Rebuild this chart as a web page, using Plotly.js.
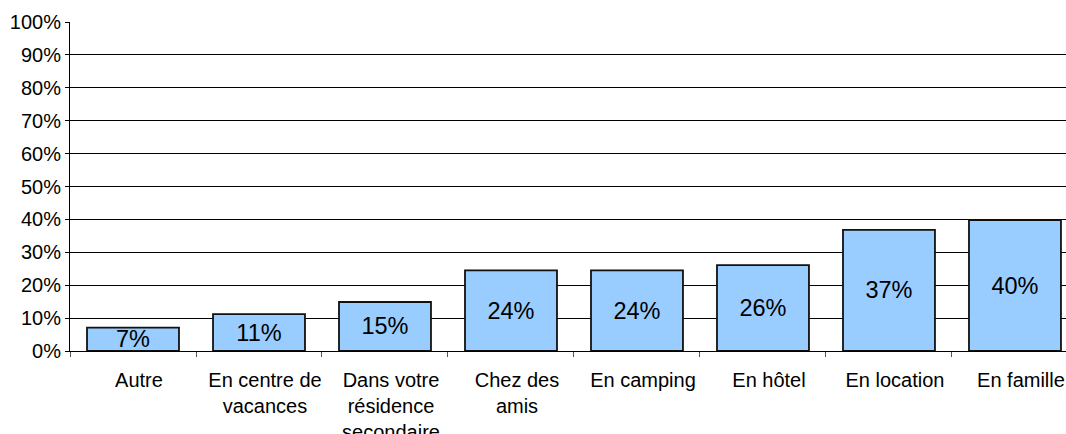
<!DOCTYPE html>
<html>
<head>
<meta charset="utf-8">
<script src="https://cdn.plot.ly/plotly-3.0.1.min.js"></script>
<style>
  html, body { margin: 0; padding: 0; background: #fff; overflow: hidden; }
  #chart { width: 1066px; height: 434px; }
</style>
</head>
<body>
<div id="chart"></div>
<script>
const categories = ["Autre", "En centre de vacances", "Dans votre résidence secondaire", "Chez des amis", "En camping", "En hôtel", "En location", "En famille"];
const tickLabels = ["Autre", "En centre de<br>vacances", "Dans votre<br>résidence<br>secondaire", "Chez des<br>amis", "En camping", "En hôtel", "En location", "En famille"];
const values = [7.1, 11.2, 14.9, 24.5, 24.5, 26.1, 36.8, 39.8];
const valueLabels = ["7%", "11%", "15%", "24%", "24%", "26%", "37%", "40%"];
const yTicks = [0, 10, 20, 30, 40, 50, 60, 70, 80, 90, 100];

const trace = {
  type: "bar",
  x: categories,
  y: values,
  text: valueLabels,
  textposition: "inside",
  insidetextanchor: "middle",
  constraintext: "none",
  textfont: { family: "Liberation Sans, Arial, sans-serif", size: 23.5, color: "#000" },
  marker: { color: "#99CCFF", line: { color: "#111", width: 1.8 } },
  hoverinfo: "none"
};

const layout = {
  width: 1066,
  height: 434,
  margin: { l: 70, r: 0, t: 22, b: 83, pad: 0 },
  paper_bgcolor: "#fff",
  plot_bgcolor: "#fff",
  showlegend: false,
  bargap: 0.27,
  font: { family: "Liberation Sans, Arial, sans-serif", size: 20, color: "#000" },
  xaxis: {
    type: "category",
    tickmode: "array",
    tickvals: categories,
    ticktext: tickLabels,
    range: [-0.5, 7.405],
    tickson: "boundaries",
    ticks: "outside",
    ticklen: 5,
    tickcolor: "#555",
    showline: true,
    linecolor: "#000",
    linewidth: 1,
    showgrid: false,
    zeroline: false,
    tickangle: 0,
    ticklabelstandoff: 11,
    ticklabelshift: 6,
    tickfont: { size: 20 }
  },
  yaxis: {
    range: [0, 100],
    tickmode: "array",
    tickvals: yTicks,
    ticktext: yTicks.map(v => v + "%"),
    ticks: "outside",
    ticklen: 4,
    tickcolor: "#000",
    showline: true,
    linecolor: "#000",
    linewidth: 1,
    showgrid: true,
    gridcolor: "#000",
    gridwidth: 1,
    zeroline: false,
    tickfont: { size: 20 }
  }
};

Plotly.newPlot("chart", [trace], layout, { staticPlot: true, displayModeBar: false });
</script>
</body>
</html>
